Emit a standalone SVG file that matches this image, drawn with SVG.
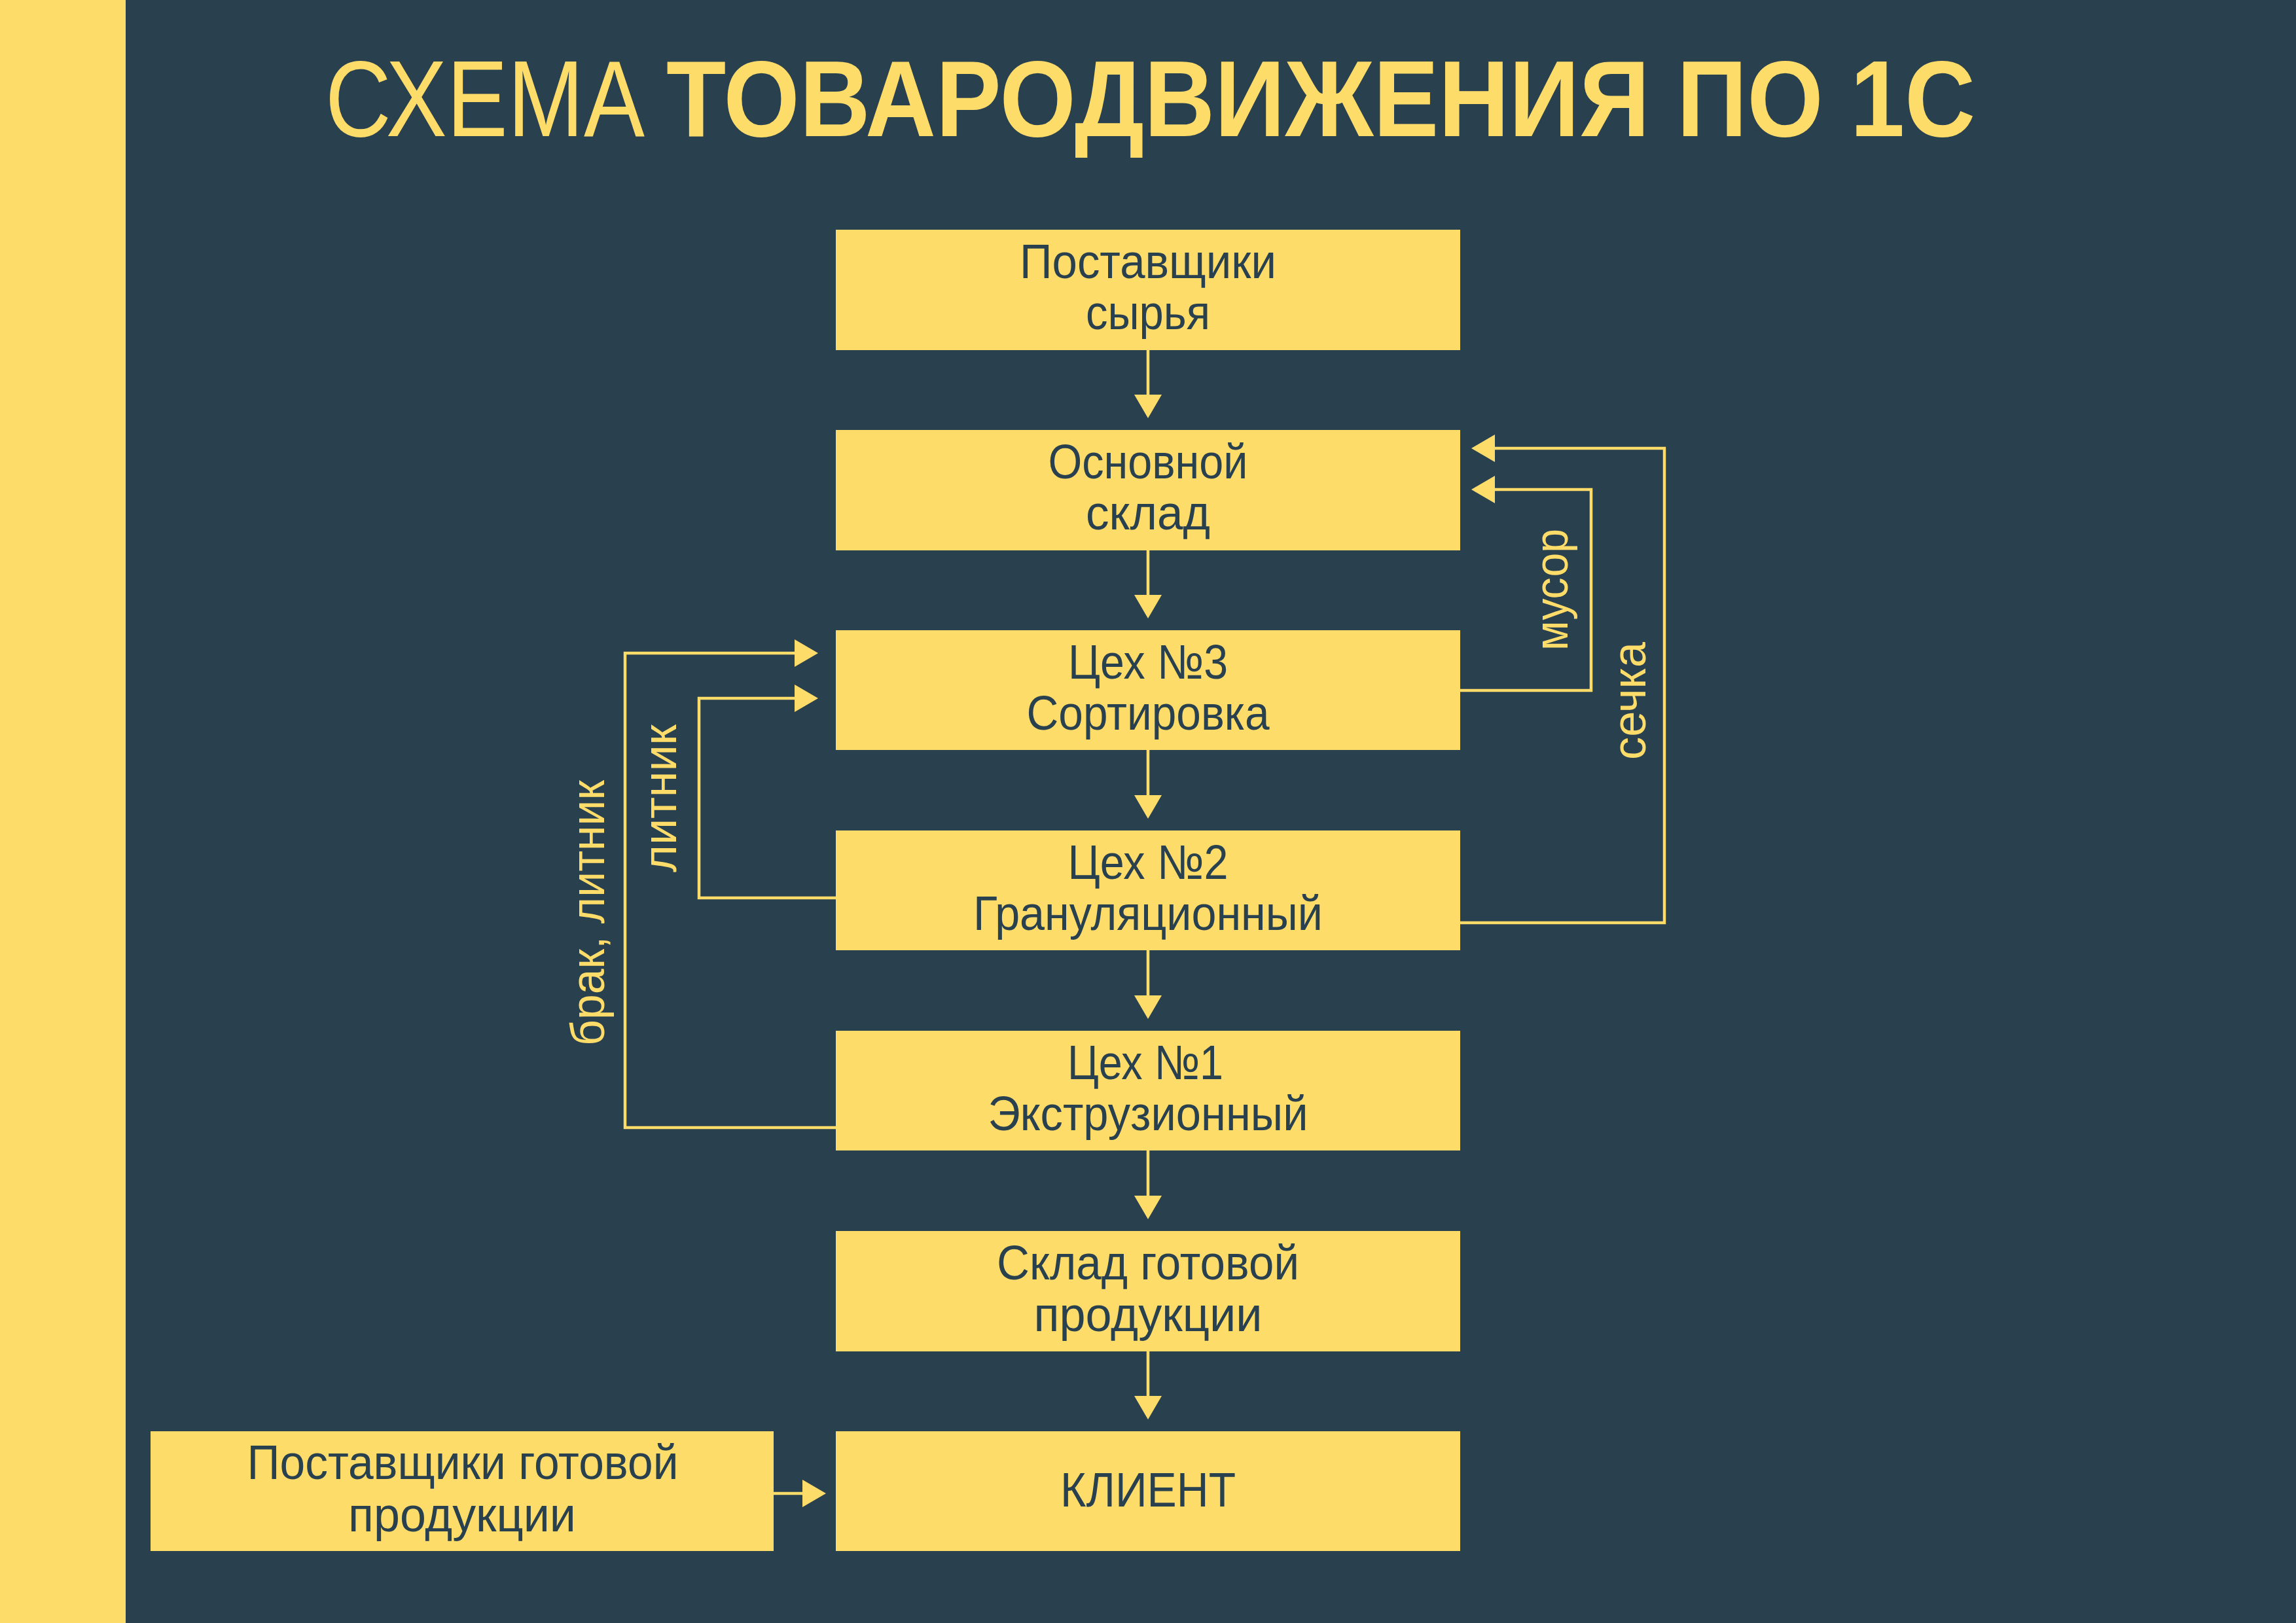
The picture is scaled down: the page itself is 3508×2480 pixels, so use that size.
<svg xmlns="http://www.w3.org/2000/svg" width="3508" height="2480" viewBox="0 0 3508 2480">
  <style>
    .bg { fill: #29404F; }
    .bar { fill: #FEDC6A; }
    .box { fill: #FEDC6A; stroke: none; }
    .title { font-family: "Liberation Sans", Arial, sans-serif; font-size: 165px; fill: #FEDC6A; }
    .ntext { font-family: "Liberation Sans", Arial, sans-serif; font-size: 74px; fill: #29404F; text-anchor: middle; }
    .lbl { font-family: "Liberation Sans", Arial, sans-serif; font-size: 72px; fill: #FEDC6A; text-anchor: middle; }
    .conn { fill: none; stroke: #FEDC6A; stroke-width: 4.5; stroke-linejoin: miter; }
  </style>
  <defs>
    <marker id="arrow" viewBox="0 0 36 42" refX="26" refY="21" markerWidth="36" markerHeight="42" markerUnits="userSpaceOnUse" orient="auto">
      <path d="M0,0 L36,21 L0,42 Z" fill="#FEDC6A"/>
    </marker>
  </defs>

  <rect class="bg" x="0" y="0" width="3508" height="2480"/>
  <rect class="bar" x="0" y="0" width="192" height="2480"/>

  <g id="title">
    <text class="title" x="497" y="208" textLength="488" lengthAdjust="spacingAndGlyphs">СХЕМА</text>
    <text class="title" x="1018" y="208" font-weight="bold" textLength="2000" lengthAdjust="spacingAndGlyphs">ТОВАРОДВИЖЕНИЯ ПО 1С</text>
  </g>

  <g id="connectors">
    <path class="conn" d="M1754,535 V629" marker-end="url(#arrow)"/>
    <path class="conn" d="M1754,841 V935" marker-end="url(#arrow)"/>
    <path class="conn" d="M1754,1146 V1241" marker-end="url(#arrow)"/>
    <path class="conn" d="M1754,1452 V1547" marker-end="url(#arrow)"/>
    <path class="conn" d="M1754,1758 V1853" marker-end="url(#arrow)"/>
    <path class="conn" d="M1754,2064 V2159" marker-end="url(#arrow)"/>
    <path class="conn" d="M2231,1055 H2431 V748 H2258" marker-end="url(#arrow)"/>
    <path class="conn" d="M2231,1410 H2543 V685 H2258" marker-end="url(#arrow)"/>
    <path class="conn" d="M1277,1372 H1068 V1067 H1240" marker-end="url(#arrow)"/>
    <path class="conn" d="M1277,1723 H955 V998 H1240" marker-end="url(#arrow)"/>
    <path class="conn" d="M1182,2282 H1252" marker-end="url(#arrow)"/>
    <text class="lbl" x="2395" y="901" transform="rotate(-90 2395 901)" textLength="186" lengthAdjust="spacingAndGlyphs">мусор</text>
    <text class="lbl" x="2514" y="1071" transform="rotate(-90 2514 1071)" textLength="180" lengthAdjust="spacingAndGlyphs">сечка</text>
    <text class="lbl" x="1033" y="1220" transform="rotate(-90 1033 1220)" textLength="226" lengthAdjust="spacingAndGlyphs">литник</text>
    <text class="lbl" x="923" y="1395" transform="rotate(-90 923 1395)" textLength="406" lengthAdjust="spacingAndGlyphs">брак, литник</text>
  </g>

  <g id="node-suppliers-raw">
    <rect class="box" x="1277" y="351" width="954" height="184"/>
    <text class="ntext" x="1754" y="425" textLength="392" lengthAdjust="spacingAndGlyphs">Поставщики</text>
    <text class="ntext" x="1754" y="503" textLength="190" lengthAdjust="spacingAndGlyphs">сырья</text>
  </g>

  <g id="node-main-warehouse">
    <rect class="box" x="1277" y="657" width="954" height="184"/>
    <text class="ntext" x="1754" y="731" textLength="305" lengthAdjust="spacingAndGlyphs">Основной</text>
    <text class="ntext" x="1754" y="809" textLength="190" lengthAdjust="spacingAndGlyphs">склад</text>
  </g>

  <g id="node-shop3">
    <rect class="box" x="1277" y="963" width="954" height="183"/>
    <text class="ntext" x="1754" y="1037" textLength="244" lengthAdjust="spacingAndGlyphs">Цех №3</text>
    <text class="ntext" x="1754" y="1115" textLength="371" lengthAdjust="spacingAndGlyphs">Сортировка</text>
  </g>

  <g id="node-shop2">
    <rect class="box" x="1277" y="1269" width="954" height="183"/>
    <text class="ntext" x="1754" y="1343" textLength="245" lengthAdjust="spacingAndGlyphs">Цех №2</text>
    <text class="ntext" x="1754" y="1421" textLength="534" lengthAdjust="spacingAndGlyphs">Грануляционный</text>
  </g>

  <g id="node-shop1">
    <rect class="box" x="1277" y="1575" width="954" height="183"/>
    <text class="ntext" x="1750" y="1649" textLength="238" lengthAdjust="spacingAndGlyphs">Цех №1</text>
    <text class="ntext" x="1754" y="1727" textLength="489" lengthAdjust="spacingAndGlyphs">Экструзионный</text>
  </g>

  <g id="node-finished-warehouse">
    <rect class="box" x="1277" y="1881" width="954" height="184"/>
    <text class="ntext" x="1754" y="1955" textLength="462" lengthAdjust="spacingAndGlyphs">Склад готовой</text>
    <text class="ntext" x="1754" y="2034" textLength="349" lengthAdjust="spacingAndGlyphs">продукции</text>
  </g>

  <g id="node-client">
    <rect class="box" x="1277" y="2187" width="954" height="183"/>
    <text class="ntext" x="1754" y="2302" textLength="268" lengthAdjust="spacingAndGlyphs">КЛИЕНТ</text>
  </g>

  <g id="node-suppliers-finished">
    <rect class="box" x="230" y="2187" width="952" height="183"/>
    <text class="ntext" x="707" y="2260" textLength="659" lengthAdjust="spacingAndGlyphs">Поставщики готовой</text>
    <text class="ntext" x="706" y="2340" textLength="348" lengthAdjust="spacingAndGlyphs">продукции</text>
  </g>
</svg>
